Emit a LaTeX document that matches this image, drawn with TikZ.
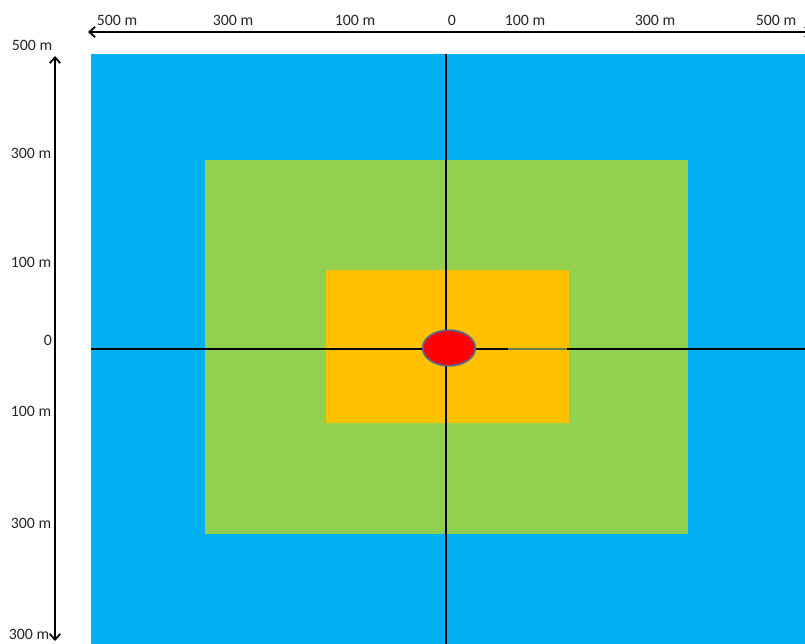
\documentclass[tikz,border=0pt]{standalone}
\usepackage{fontspec}
\setmainfont{Carlito}
\usetikzlibrary{arrows.meta, shapes.geometric}
\definecolor{zoneblue}{HTML}{00B0F0}
\definecolor{zonegreen}{HTML}{92D050}
\definecolor{zoneorange}{HTML}{FFC000}
\definecolor{siteborder}{HTML}{5A6A8C}
\definecolor{olive}{HTML}{6E7A3C}
\begin{document}
\begin{tikzpicture}[x=0.03cm, y=-0.03cm,
    tick/.style={font=\fontsize{13.5}{15}\selectfont, inner sep=0pt, text=black!85},
    axis/.style={line width=1.5pt, {Straight Barb[length=5pt,width=9pt]}-{Straight Barb[length=5pt,width=9pt]}},
    cross/.style={line width=1.5pt, black}]
  \useasboundingbox (0,0) rectangle (805,644);
  % \draw[help lines, step=50] (0,0) grid (805,644);

  % zones
  \fill[zoneblue] (91,54) rectangle (812,650);
  \fill[zonegreen] (205,160) rectangle (688,534);
  \fill[zoneorange] (326,270) rectangle (569,423);

  % cross lines
  \coordinate (ntop) at (446,54);
  \coordinate (nbot) at (446,650);
  \coordinate (wend) at (91,349);
  \coordinate (eend) at (812,349);
  \coordinate (ga) at (508,349);
  \coordinate (gb) at (567,349);
  \draw[cross] (ntop) -- (nbot);
  \draw[cross] (wend) -- (eend);
  \draw[line width=1.5pt, olive] (ga) -- (gb);

  \node[ellipse, draw=siteborder, line width=1.5pt, fill=red, inner sep=0pt,
    minimum width=1.58cm, minimum height=1.07cm] (site) at (449,348) {};

  % top axis
  \coordinate (xl) at (88,32);
  \coordinate (xr) at (812,32);
  \draw[axis] (xl) -- (xr);
  \node[tick] (x500l) at (117,20) {500 m};
  \node[tick] (x300l) at (233,20) {300 m};
  \node[tick] (x100l) at (355,20) {100 m};
  \node[tick] (x0) at (452,20) {0};
  \node[tick] (x100r) at (525,20) {100 m};
  \node[tick] (x300r) at (655,20) {300 m};
  \node[tick] (x500r) at (776,20) {500 m};

  % left axis
  \coordinate (yt) at (55,56);
  \coordinate (yb) at (55,641);
  \draw[axis] (yt) -- (yb);
  \node[tick] (y500t) at (32,45) {500 m};
  \node[tick] (y300t) at (31,153) {300 m};
  \node[tick] (y100t) at (31,262) {100 m};
  \node[tick] (y0) at (48,340) {0};
  \node[tick] (y100b) at (31,411) {100 m};
  \node[tick] (y300b) at (31,523) {300 m};
  \node[tick] (y300e) at (29,634) {300 m};
\end{tikzpicture}
\end{document}
